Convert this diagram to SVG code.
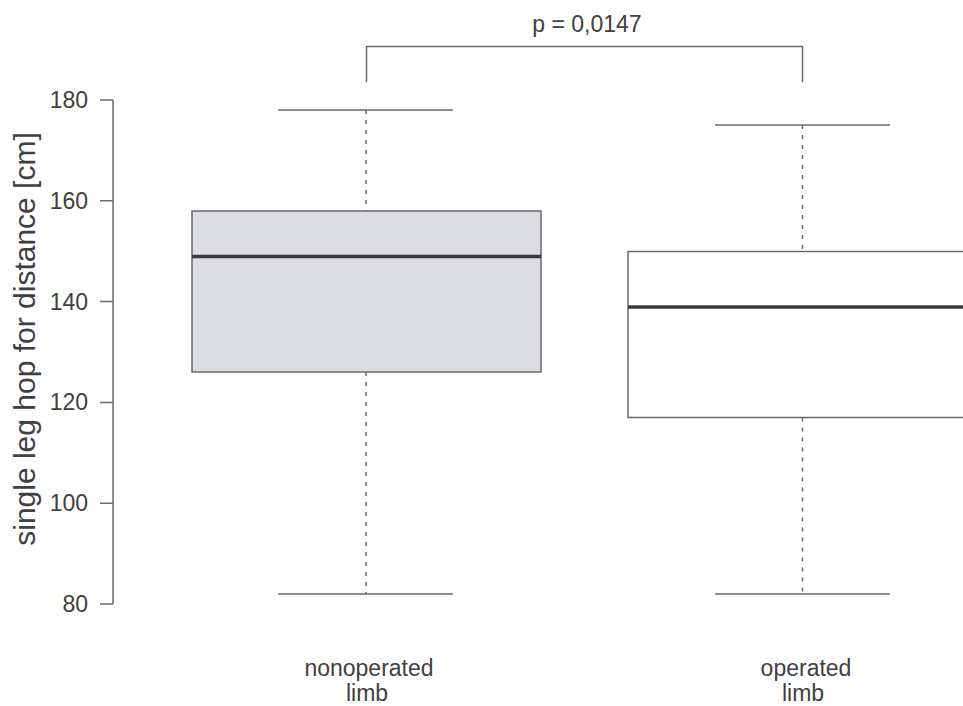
<svg xmlns="http://www.w3.org/2000/svg" width="963" height="706" viewBox="0 0 963 706">
<style>
text{font-family:"Liberation Sans",Arial,sans-serif;fill:#404040}
.ax{stroke:#6a6a6a;stroke-width:1.5;fill:none}
.box{stroke:#6a6a6a;stroke-width:1.5}
.med{stroke:#3a3a3a;stroke-width:3.5}
.cap{stroke:#6a6a6a;stroke-width:1.5}
.wh{stroke:#6a6a6a;stroke-width:1.5;stroke-dasharray:4 6}
.tk{font-size:23px;text-anchor:end}
.cat{font-size:23px;text-anchor:middle}
</style>
<rect width="963" height="706" fill="#fff"/>
<g id="axis">
<path class="ax" d="M113 100V604M100 100H113M100 200.8H113M100 301.6H113M100 402.4H113M100 503.2H113M100 604H113"/>
<text class="tk" x="88" y="108">180</text>
<text class="tk" x="88" y="208.8">160</text>
<text class="tk" x="88" y="309.6">140</text>
<text class="tk" x="88" y="410.4">120</text>
<text class="tk" x="88" y="511.2">100</text>
<text class="tk" x="88" y="612">80</text>
<text font-size="30" text-anchor="middle" transform="translate(35 339) rotate(-90)">single leg hop for distance [cm]</text>
</g>
<g id="nonoperated">
<line class="wh" x1="366" y1="110" x2="366" y2="211"/>
<line class="wh" x1="366" y1="372" x2="366" y2="594"/>
<line class="cap" x1="278" y1="110" x2="453" y2="110"/>
<line class="cap" x1="278" y1="594" x2="453" y2="594"/>
<rect class="box" x="192" y="211" width="349" height="161" fill="#dcdde0"/>
<line class="med" x1="192" y1="256.5" x2="541" y2="256.5"/>
<text class="cat" x="369" y="676">nonoperated</text>
<text class="cat" x="367" y="701">limb</text>
</g>
<g id="operated">
<line class="wh" x1="802.5" y1="125" x2="802.5" y2="251.5"/>
<line class="wh" x1="802.5" y1="417.5" x2="802.5" y2="594"/>
<line class="cap" x1="715" y1="125" x2="890" y2="125"/>
<line class="cap" x1="715" y1="594" x2="890" y2="594"/>
<rect class="box" x="628" y="251.5" width="360" height="166" fill="#fff"/>
<line class="med" x1="628" y1="307" x2="963" y2="307"/>
<text class="cat" x="806" y="676">operated</text>
<text class="cat" x="803" y="701">limb</text>
</g>
<g id="connectors">
<path class="ax" d="M366.5 82V46.5H802.5V82"/>
<text font-size="23" text-anchor="middle" x="587" y="32">p = 0,0147</text>
</g>
</svg>
